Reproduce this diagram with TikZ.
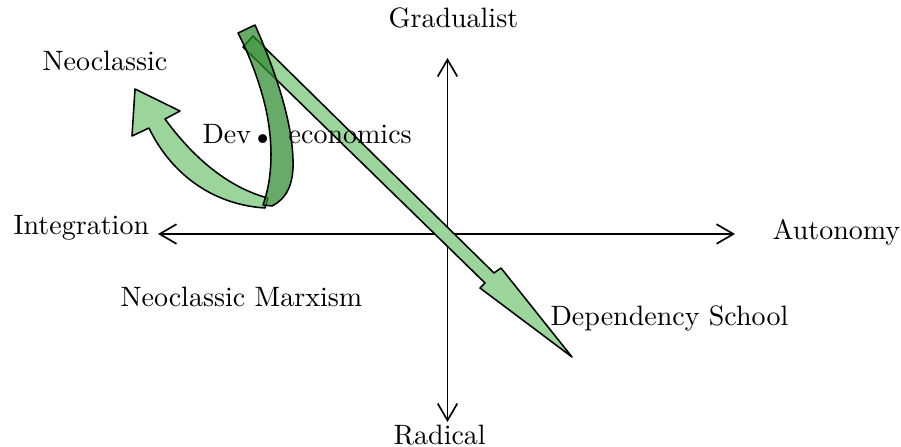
\documentclass[tikz,border=0pt]{standalone}
\usepackage{fontspec}
\usetikzlibrary{arrows.meta}
\definecolor{LeafLight}{HTML}{9BD59B}
\definecolor{LeafDark}{HTML}{2E8A2E}
\tikzset{
  lbl/.style={anchor=base west, inner sep=0pt},
  axis/.style={{Straight Barb[length=6pt,width=7pt]}-{Straight Barb[length=6pt,width=7pt]}, line width=0.6pt},
  ribbon/.style={draw=black, line width=0.55pt, line join=round},
}
\begin{document}
\begin{tikzpicture}[x=0.357pt,y=-0.357pt]
  \useasboundingbox (0,0) rectangle (901,447);
  \coordinate (west) at (158,234);
  \coordinate (east) at (735,234);
  \coordinate (north) at (447.5,58);
  \coordinate (south) at (447.5,422);
  \draw[axis] (west) -- (east);
  \draw[axis] (north) -- (south);
  \filldraw[ribbon, fill=LeafLight] (253,36) -- (494,273) -- (501,268) -- (572,357)
    -- (480,288) -- (485,283) -- (243,47) -- cycle;
  \filldraw[ribbon, fill=LeafLight] (268,198) .. controls (230,188) and (195,160) .. (165,119)
    -- (180,111) -- (135,89) -- (132,136) -- (149,128)
    .. controls (167,166) and (205,204) .. (265,208) -- cycle;
  \filldraw[ribbon, fill=LeafDark, fill opacity=0.72] (238,33) -- (255,25)
    .. controls (275,70) and (292,120) .. (293,160)
    .. controls (294,185) and (286,199) .. (272,206) -- (263,205)
    .. controls (272,180) and (273,150) .. (268,120)
    .. controls (264,95) and (252,60) .. (238,33) -- cycle;
  \node[lbl] (grad) at (388,27) {Gradualist};
  \node[lbl] (neo) at (42,70.5) {Neoclassic};
  \node[lbl] (dev) at (202,143) {Dev\hspace{1pt}{\fontsize{22}{22}\selectfont\bfseries .}\hspace{5.5pt}economics};
  \node[lbl] (integ) at (13,234) {Integration};
  \node[lbl] (auto) at (772,239) {Autonomy};
  \node[lbl] (marx) at (120,306) {Neoclassic Marxism};
  \node[lbl] (dep) at (550,325) {Dependency School};
  \node[lbl] (rad) at (393,444) {Radical};
\end{tikzpicture}
\end{document}
